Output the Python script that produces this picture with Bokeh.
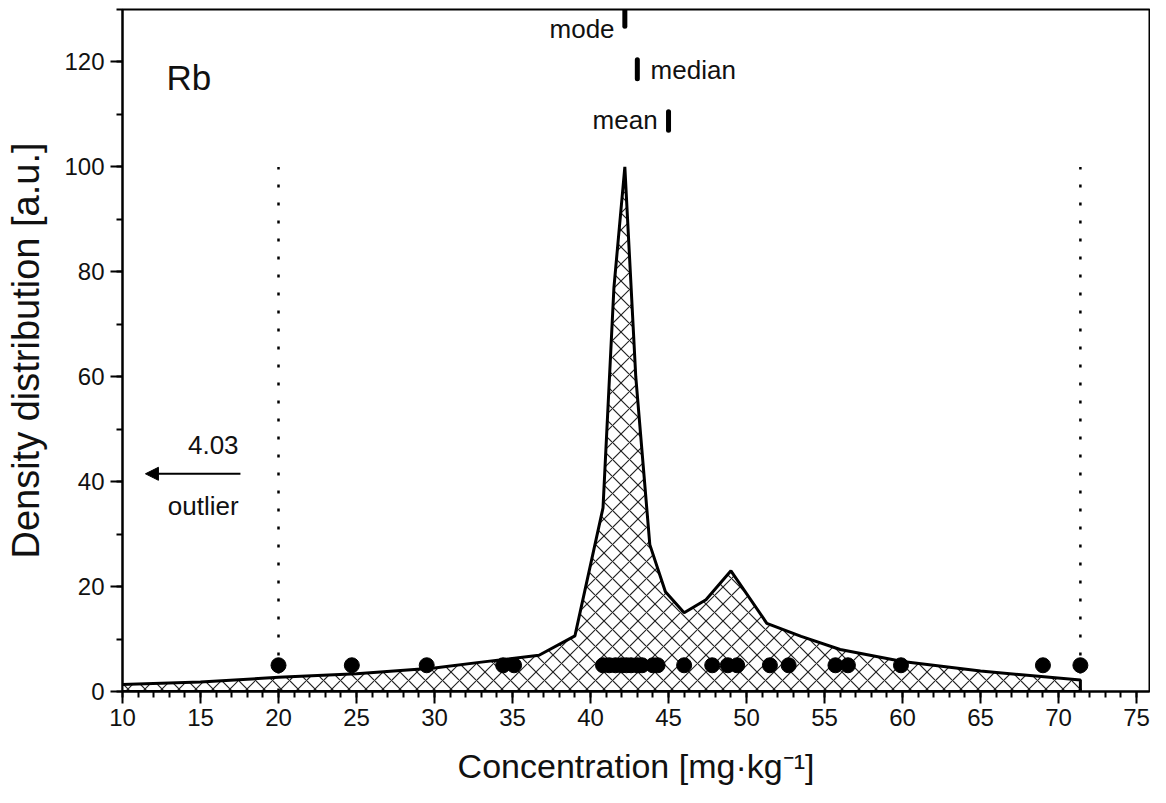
from bokeh.plotting import figure
from bokeh.models import Range1d, SingleIntervalTicker, Arrow, NormalHead, ColumnDataSource
from bokeh.core.properties import value
from bokeh.embed import file_html
from bokeh.resources import INLINE

FONT = "Liberation Sans"

# Density curve
curve_x = [9.5, 15, 20, 25, 30, 33, 36.7, 39.0, 40.8, 41.5, 42.2, 42.9, 43.8, 44.8, 46.0, 47.4, 49.0, 51.3, 53.5, 56.0, 60.0, 65.0, 71.4]
curve_y = [1.3, 1.8, 2.7, 3.4, 4.5, 5.6, 6.9, 10.6, 35, 77, 100, 60, 28, 19, 15, 17.5, 23, 13, 10.5, 8.0, 5.7, 3.9, 2.2]

# Individual measurements (plotted at a constant level)
points_x = [20.0, 24.7, 29.5, 34.4, 35.1, 40.8, 41.2, 41.6, 42.0, 42.3, 42.6, 43.0, 43.3, 44.0, 44.3,
            46.0, 47.8, 48.8, 49.4, 51.5, 52.7, 55.7, 56.5, 59.9, 69.0, 71.4]
points_level = 5

# Outlier fences
fence_x = [20.0, 71.4]
fence_top = 100

# Statistics markers
stat_names = ["mode", "median", "mean"]
stat_x = [42.2, 43.0, 45.0]
stat_y0 = [126.8, 116.8, 107.0]
stat_y1 = [130.0, 120.4, 110.5]

outlier_value = "4.03"

p = figure(width=1150, height=787, output_backend="svg", toolbar_location=None,
           x_range=Range1d(10, 75.83), y_range=Range1d(0, 130),
           min_border_left=122, min_border_top=9, min_border_right=1, min_border_bottom=95)

p.xgrid.visible = False
p.ygrid.visible = False
p.outline_line_color = "black"
p.outline_line_width = 2

# filled, hatched density
px = curve_x + [curve_x[-1], curve_x[0]]
py = curve_y + [0, 0]
p.patch(px, py, fill_color="white", line_color="black", line_width=3,
        hatch_pattern="diagonal_cross", hatch_scale=17, hatch_weight=1.2, hatch_color="#222222")

# fences
p.segment(x0=fence_x, y0=[0, 0], x1=fence_x, y1=[fence_top, fence_top],
          line_color="black", line_width=2.5, line_dash="3 15")

# points
p.scatter(points_x, [points_level] * len(points_x), size=15, color="black")

# stat markers
p.segment(x0=stat_x, y0=stat_y0, x1=stat_x, y1=stat_y1, line_color="black", line_width=5, line_cap="round")

tsrc = ColumnDataSource(dict(x=[41.54, 43.85, 44.3], y=[126.3, 118.5, 109.0], t=stat_names,
                             align=["right", "left", "right"]))
p.text(x="x", y="y", text="t", source=tsrc, text_align="align", text_baseline="middle",
       text_font=value(FONT), text_font_size="26px", text_color="#111111")

# element label
p.text(x=[12.82], y=[117.0], text=["Rb"], text_align="left", text_baseline="alphabetic",
       text_font=value(FONT), text_font_size="35px", text_color="#111111")

# outlier annotation
p.text(x=[17.44, 17.44], y=[47.0, 35.4], text=[outlier_value, "outlier"], text_align="right",
       text_baseline="middle", text_font=value(FONT), text_font_size="26px", text_color="#111111")
p.add_layout(Arrow(end=NormalHead(size=13, fill_color="black", line_color="black"),
                   x_start=17.56, y_start=41.5, x_end=11.47, y_end=41.5,
                   line_color="black", line_width=2))

# axes
p.xaxis.ticker = SingleIntervalTicker(interval=5, num_minor_ticks=5)
p.yaxis.ticker = SingleIntervalTicker(interval=20, num_minor_ticks=2)
for ax in (p.xaxis[0], p.yaxis[0]):
    ax.axis_line_width = 2
    ax.axis_line_color = "black"
    ax.major_tick_line_width = 2
    ax.minor_tick_line_width = 2
    ax.major_tick_line_color = "black"
    ax.minor_tick_line_color = "black"
    ax.major_tick_out = 12
    ax.major_tick_in = 0
    ax.minor_tick_out = 6
    ax.minor_tick_in = 0
    ax.major_label_text_font = FONT
    ax.major_label_text_font_size = "24px"
    ax.major_label_text_color = "#111111"
    ax.axis_label_text_font = FONT
    ax.axis_label_text_font_style = "normal"
    ax.axis_label_text_color = "#111111"

p.xaxis.axis_label_text_font_size = "34px"
p.yaxis.axis_label_text_font_size = "38px"
p.xaxis.axis_label = "Concentration [mg·kg⁻¹]"
p.yaxis.axis_label = "Density distribution [a.u.]"
p.xaxis.axis_label_standoff = 18
p.yaxis.axis_label_standoff = 14
p.xaxis.major_label_standoff = 5
p.yaxis.major_label_standoff = 6

open("out.html", "w").write(file_html(p, INLINE))
